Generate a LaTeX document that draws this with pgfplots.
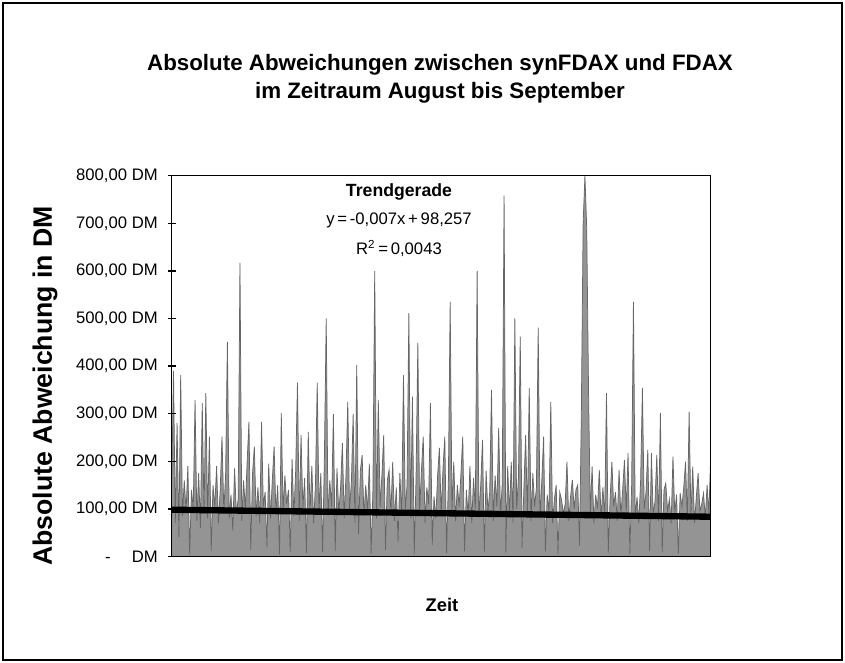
\documentclass[border=0pt]{standalone}
\usepackage{fontspec}
\setmainfont{Liberation Sans}
\usepackage{pgfplots}
\pgfplotsset{compat=1.18}
\usepackage{pgfplotstable}
\pgfplotstableread{
y
150
390
70
280
40
381
85
160
95
190
5
140
100
329
75
175
60
322
90
343
80
252
12
150
105
190
70
140
252
95
170
451
80
130
55
185
90
120
617
75
160
100
200
283
14
175
231
85
145
70
283
105
135
20
195
80
160
231
90
150
4
301
95
170
110
140
10
205
85
180
365
75
255
100
165
7
262
90
190
70
150
365
95
175
9
210
500
85
160
105
299
12
185
90
145
238
80
170
325
100
155
299
70
402
47
180
213
85
150
95
195
6
140
600
80
329
105
170
255
14
160
182
90
199
75
145
30
175
85
381
100
150
511
80
336
5
165
449
95
180
252
70
145
110
322
24
126
80
170
228
90
185
252
7
160
535
95
199
75
150
105
175
252
11
140
85
190
70
165
100
600
80
150
245
9
180
95
135
350
75
170
105
270
85
155
758
8
190
90
199
70
500
100
165
462
18
140
255
85
354
75
175
105
145
481
80
160
252
11
130
95
325
70
120
150
5
135
119
90
110
199
75
125
161
100
140
150
23
300
700
800
690
350
90
189
70
130
100
182
80
145
85
343
8
120
199
105
135
75
182
85
140
203
95
217
5
150
535
80
125
70
160
354
100
135
224
12
217
90
115
213
75
301
9
140
154
95
120
70
210
90
130
6
133
105
145
199
75
304
85
189
70
125
175
95
110
133
80
150
90
213
}\devdata
\begin{document}
\begin{tikzpicture}[x=1pt,y=1pt]
\useasboundingbox (0,0) rectangle (507,397.2);
\draw[line width=1pt] (1.8,1.2) rectangle (505.2,395.4);
\begin{axis}[
  at={(103.02pt,63.3pt)}, anchor=south west,
  width=323.4pt, height=228.5pt, scale only axis,
  xmin=0, xmax=2100, ymin=0, ymax=800,
  xtick=\empty,
  ytick pos=left,
  ytick={0,100,200,300,400,500,600,700,800},
  yticklabels={{-\hspace{12.6pt}DM},{100,00 DM},{200,00 DM},{300,00 DM},{400,00 DM},{500,00 DM},{600,00 DM},{700,00 DM},{800,00 DM}},
  tick align=center, major tick length=5pt,
  tick style={black, line width=0.9pt},
  axis line style={line width=0.9pt},
  yticklabel style={font=\fontsize{10}{12}\selectfont, inner sep=0pt, anchor=east, xshift=-5.7pt},
  axis on top,
]
\addplot[draw=black!60, line width=0.45pt, fill=black!42] table[x expr=\coordindex*7, y=y] {\devdata} \closedcycle;
\addplot[black, line width=3.8pt] coordinates {(0,98.257) (2100,83.557)};
\end{axis}
\node[font=\fontsize{13.4}{16}\bfseries\selectfont] at (264,358.2) {Absolute Abweichungen zwischen synFDAX und FDAX};
\node[font=\fontsize{13.4}{16}\bfseries\selectfont] at (264,341.4) {im Zeitraum August bis September};
\node[rotate=90, font=\fontsize{16}{18}\bfseries\selectfont] at (27,165.6) {Absolute Abweichung in DM};
\node[font=\fontsize{11}{13}\bfseries\selectfont] at (265.2,34.2) {Zeit};
\node[font=\fontsize{10.6}{12}\bfseries\selectfont] at (239.4,282.3) {Trendgerade};
\node[font=\fontsize{10}{12}\selectfont] at (239.4,265.2) {y\,=\,-0,007x\,+\,98,257};
\node[font=\fontsize{10}{12}\selectfont] at (239.4,248.1) {R\textsuperscript{2}\,=\,0,0043};
\end{tikzpicture}
\end{document}
